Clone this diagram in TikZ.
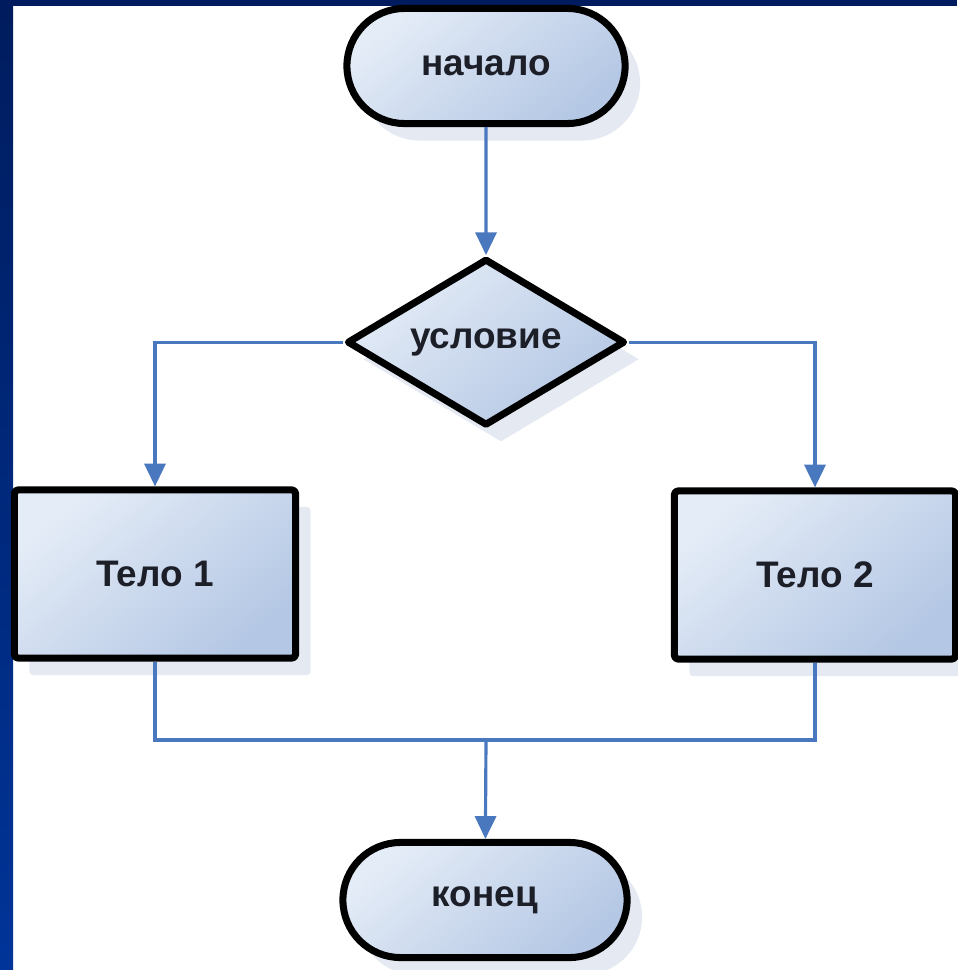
\documentclass[tikz,border=0pt]{standalone}
\usepackage{fontspec}
\setmainfont{Liberation Sans}
\usepackage{tikz}
\usetikzlibrary{arrows.meta,positioning,shapes.geometric,shapes.misc,shadows}
\definecolor{FCnavy}{RGB}{0,28,94}
\definecolor{FCblue}{RGB}{0,52,152}
\definecolor{FClight}{RGB}{228,236,247}
\definecolor{FCdark}{RGB}{180,199,228}
\definecolor{FCshadow}{RGB}{228,233,242}
\definecolor{FCline}{RGB}{74,120,190}
\definecolor{FCtext}{RGB}{28,30,40}

\begin{document}
\begin{tikzpicture}[
      x=0.01cm,y=-0.01cm,
      node distance=1.28cm,
      every node/.style={font=\fontsize{10.5}{12}\selectfont\bfseries,text=FCtext},
      fc/.style={draw=black,line width=2pt,line join=round,
        left color=FClight,right color=FCdark,shading angle=40,
        drop shadow={shadow xshift=0.15cm,shadow yshift=-0.17cm,fill=FCshadow,opacity=1}},
      term/.style={fc,rounded rectangle,minimum width=2.78cm,minimum height=1.15cm,inner sep=0pt},
      decide/.style={fc,diamond,aspect=1.66,minimum width=2.78cm,minimum height=1.67cm,inner sep=0pt},
      proc/.style={fc,rectangle,rounded corners=1pt,minimum width=2.81cm,minimum height=1.68cm},
      link/.style={draw=FCline,line width=0.9pt},
      arr/.style={link,-{Triangle[length=6.5pt,width=6pt,fill=FCline]}}
    ]
    \useasboundingbox (0,0) rectangle (957,970);
    % slide frame
    \fill[white] (0,0) rectangle (957,970);
    \shade[top color=FCnavy,bottom color=FCblue] (0,0) rectangle (13,970);
    \fill[FCnavy] (0,0) rectangle (957,6);

    \node[term] (start) at (486,66) {начало};
    \node[decide,below=of start] (cond) {условие};
    \node[proc] (body1) at (155,574) {Тело 1};
    \node[proc] (body2) at (815,575) {Тело 2};
    \node[term,minimum width=2.84cm] (stop) at (485,900) {конец};
    \coordinate (join) at (486,740);

    \draw[arr] (start) -- (cond);
    \draw[arr] (cond.west) -| (body1);
    \draw[arr] (cond.east) -| (body2);
    \draw[link] (body1) |- (join);
    \draw[link] (body2) |- (join);
    \draw[arr] (join) -- (stop);
  \end{tikzpicture}
\end{document}
